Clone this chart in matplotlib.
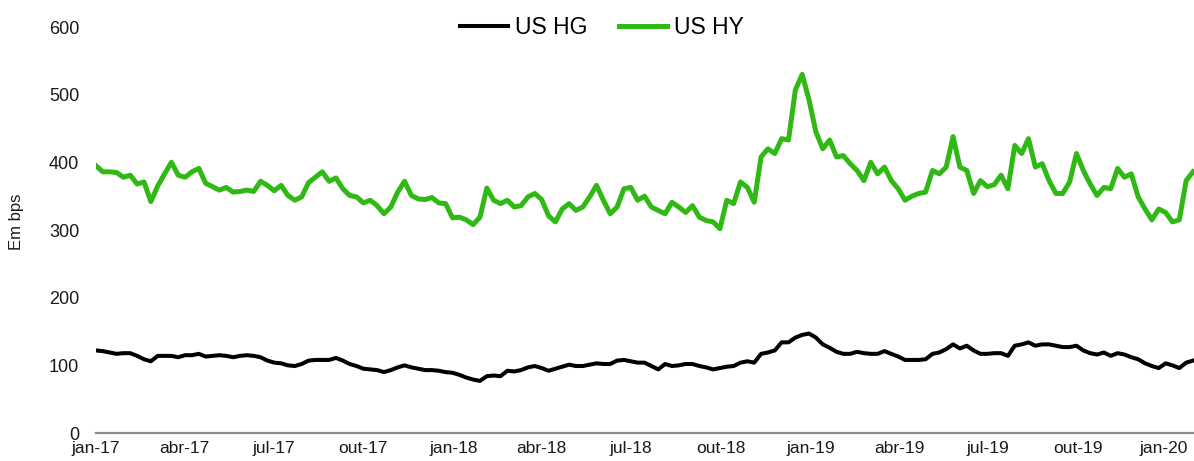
import pandas as pd
import matplotlib
matplotlib.use("Agg")
import matplotlib.pyplot as plt
from matplotlib.transforms import ScaledTranslation

# weekly readings (bps), starting 1 Jan 2017
start = "2017-01-01"

us_hy = [395, 386, 386, 385, 378, 381, 368, 371, 342, 365,
         383, 400, 381, 378, 386, 391, 369, 364, 359, 363,
         356, 357, 359, 357, 372, 366, 358, 366, 351, 344,
         349, 370, 378, 386, 372, 377, 361, 351, 349, 340,
         344, 336, 324, 334, 356, 372, 351, 346, 345, 348,
         340, 339, 318, 319, 315, 308, 319, 362, 344, 339,
         344, 334, 336, 349, 354, 345, 321, 312, 331, 339,
         329, 334, 349, 366, 344, 324, 334, 361, 363, 344,
         350, 334, 329, 324, 341, 334, 326, 336, 319, 314,
         312, 302, 344, 339, 371, 363, 341, 408, 420, 413,
         435, 433, 507, 530, 492, 445, 420, 433, 408, 410,
         398, 388, 373, 400, 383, 393, 373, 361, 344, 350,
         354, 356, 388, 383, 393, 438, 393, 388, 354, 373,
         364, 367, 381, 361, 425, 413, 435, 393, 398, 373,
         354, 354, 371, 413, 388, 368, 351, 363, 361, 391,
         378, 383, 349, 331, 315, 331, 326, 312, 315, 373,
         386]

us_hg = [122, 121, 119, 117, 118, 118, 114, 109, 106, 114,
         114, 114, 112, 115, 115, 117, 113, 114, 115, 114,
         112, 114, 115, 114, 112, 107, 104, 103, 100, 99,
         102, 107, 108, 108, 108, 111, 107, 102, 99, 95,
         94, 93, 90, 93, 97, 100, 97, 95, 93, 93,
         92, 90, 89, 86, 82, 79, 77, 84, 85, 84,
         92, 91, 93, 97, 99, 96, 92, 95, 98, 101,
         99, 99, 101, 103, 102, 102, 107, 108, 106, 104,
         104, 99, 94, 102, 99, 100, 102, 102, 99, 97,
         94, 96, 98, 99, 104, 106, 104, 117, 119, 122,
         134, 134, 141, 145, 147, 141, 131, 126, 120, 117,
         117, 120, 118, 117, 117, 121, 117, 113, 108, 108,
         108, 109, 117, 119, 124, 131, 125, 129, 122, 117,
         117, 118, 118, 114, 129, 131, 134, 129, 131, 131,
         129, 127, 127, 129, 122, 118, 116, 119, 114, 118,
         116, 112, 109, 103, 99, 96, 103, 100, 96, 104,
         107]

tick_dates = ["2017-01-01", "2017-04-01", "2017-07-01", "2017-10-01",
              "2018-01-01", "2018-04-01", "2018-07-01", "2018-10-01",
              "2019-01-01", "2019-04-01", "2019-07-01", "2019-10-01",
              "2020-01-01"]
tick_labels = ["jan-17", "abr-17", "jul-17", "out-17",
               "jan-18", "abr-18", "jul-18", "out-18",
               "jan-19", "abr-19", "jul-19", "out-19",
               "jan-20"]

plt.rcParams["font.family"] = ["Liberation Sans", "DejaVu Sans"]

dates = pd.date_range(start, periods=len(us_hy), freq="7D")

fig = plt.figure(figsize=(11.94, 4.61), dpi=100)
ax = fig.add_axes([0.0804, 0.0607, 0.9196, 0.8807])

ax.plot(dates, us_hg, color="black", lw=2.9, label="US HG", solid_joinstyle="round")
ax.plot(dates, us_hy, color="#30B814", lw=3.6, label="US HY", solid_joinstyle="round")

ax.set_ylim(0, 600)
ax.set_yticks(range(0, 601, 100))
ax.set_xlim(pd.Timestamp(start), dates[-1] + pd.Timedelta(days=1))
ax.set_xticks(pd.to_datetime(tick_dates))
ax.set_xticklabels(tick_labels)

for s in ["top", "right", "left"]:
    ax.spines[s].set_visible(False)
ax.spines["bottom"].set_color("#8c8c8c")
ax.spines["bottom"].set_linewidth(1.6)
ax.tick_params(axis="both", length=0, labelsize=13, colors="#1a1a1a")
ax.tick_params(axis="x", labelsize=12.5, pad=6)
ax.tick_params(axis="y", pad=12)

# nudge the last date label so it stays inside the figure
last = ax.get_xticklabels()[-1]
last.set_transform(last.get_transform() + ScaledTranslation(-0.05, 0, fig.dpi_scale_trans))

fig.text(17 / 1194, 1 - 222 / 461, "Em bps", rotation=90, va="center",
         ha="center", fontsize=12, color="#1a1a1a")

fig.legend(loc="center", bbox_to_anchor=(0.504, 1 - 28 / 461), ncol=2,
           frameon=False, fontsize=16.5, handlelength=2.1, handletextpad=0.3,
           columnspacing=1.4)

fig.savefig("out.png", dpi=100)
